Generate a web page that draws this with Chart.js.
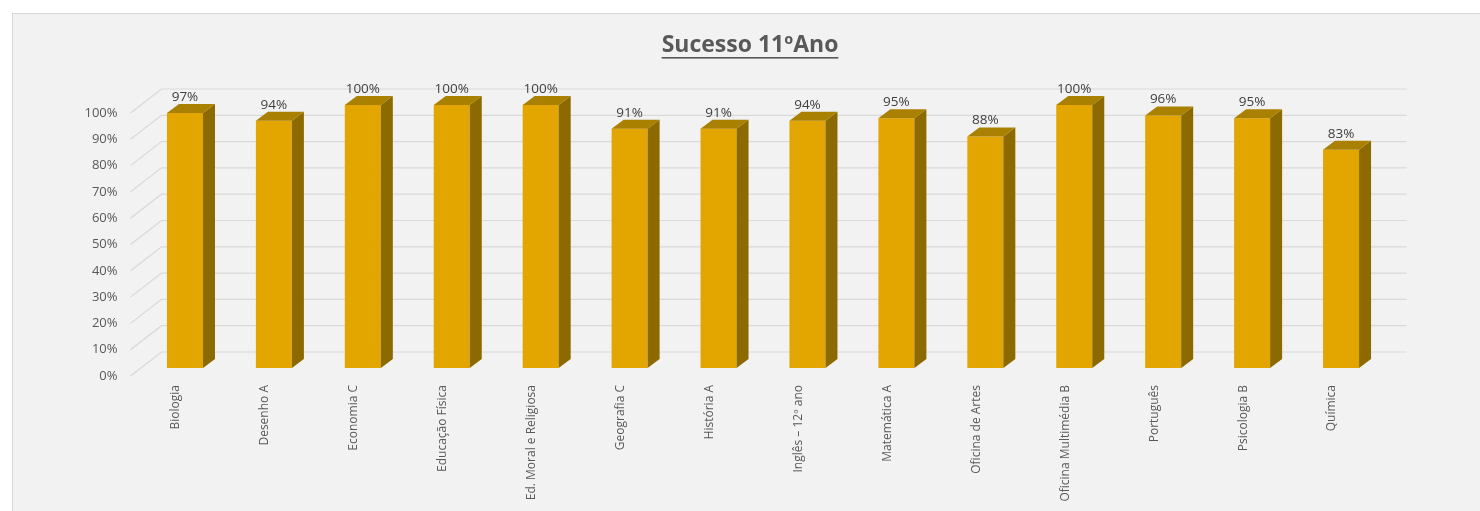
<!DOCTYPE html>
<html>
<head>
<meta charset="utf-8">
<script src="https://cdn.jsdelivr.net/npm/chart.js@4.4.1/dist/chart.umd.min.js"></script>
<style>
html,body{margin:0;padding:0;background:#fff;}
canvas{display:block;}
</style>
</head>
<body>
<canvas id="c" width="1480" height="511"></canvas>
<script>
const titleText = 'Sucesso 11ºAno';
const categories = ['Biologia','Desenho A','Economia C','Educação Física','Ed. Moral e Religiosa','Geografia C','História A','Inglês – 12º ano','Matemática A','Oficina de Artes','Oficina Multimédia B','Português','Psicologia B','Química'];
const values = [97,94,100,100,100,91,91,94,95,88,100,96,95,83];
const yMin = 0, yMax = 100, yStep = 10;

const FRONT = {dx:-10, dy:8};
const BACK = {dx:21, dy:-16};
const BAR_DEPTH = {dx:12, dy:-9};

const threeD = {
  id:'threeD',
  beforeDraw(chart){
    const ctx = chart.ctx;
    ctx.save();
    ctx.fillStyle = '#ffffff';
    ctx.fillRect(0,0,chart.width,chart.height);
    ctx.fillStyle = '#f2f2f2';
    ctx.fillRect(13,14,chart.width,chart.height);
    ctx.strokeStyle = '#d9d9d9';
    ctx.lineWidth = 1;
    ctx.strokeRect(12.5,13.5,chart.width+10,chart.height+10);
    // title
    ctx.font = 'bold 23px "Open Sans"';
    ctx.fillStyle = '#595959';
    ctx.textAlign = 'center';
    ctx.textBaseline = 'middle';
    const cx = chart.width/2 + 10;
    ctx.fillText(titleText, cx, 45);
    const w = ctx.measureText(titleText).width;
    ctx.fillRect(cx - w/2, 57, w, 1.6);
    ctx.restore();
  },
  beforeDatasetsDraw(chart){
    const ctx = chart.ctx, ys = chart.scales.y, area = chart.chartArea;
    ctx.save();
    ctx.strokeStyle = '#d9d9d9';
    ctx.lineWidth = 1.2;
    ys.ticks.forEach(t => {
      const y = ys.getPixelForValue(t.value);
      ctx.beginPath();
      ctx.moveTo(area.left + FRONT.dx, y + FRONT.dy);
      ctx.lineTo(area.left + BACK.dx, y + BACK.dy);
      ctx.lineTo(area.right + BACK.dx, y + BACK.dy);
      ctx.stroke();
    });
    ctx.restore();
  },
  afterDatasetsDraw(chart){
    const ctx = chart.ctx;
    const meta = chart.getDatasetMeta(0);
    ctx.save();
    meta.data.forEach((bar, i) => {
      const p = bar.getProps(['x','y','base','width'], true);
      const l = p.x - p.width/2, r = p.x + p.width/2, top = p.y, bot = p.base;
      ctx.fillStyle = '#8c6a00';
      ctx.beginPath();
      ctx.moveTo(r, top);
      ctx.lineTo(r + BAR_DEPTH.dx, top + BAR_DEPTH.dy);
      ctx.lineTo(r + BAR_DEPTH.dx, bot + BAR_DEPTH.dy);
      ctx.lineTo(r, bot);
      ctx.closePath();
      ctx.fill();
      ctx.fillStyle = '#a98000';
      ctx.beginPath();
      ctx.moveTo(l, top);
      ctx.lineTo(r, top);
      ctx.lineTo(r + BAR_DEPTH.dx, top + BAR_DEPTH.dy);
      ctx.lineTo(l + BAR_DEPTH.dx, top + BAR_DEPTH.dy);
      ctx.closePath();
      ctx.fill();
      ctx.fillStyle = '#404040';
      ctx.font = '13.5px "Open Sans"';
      ctx.textAlign = 'center';
      ctx.textBaseline = 'middle';
      ctx.fillText(values[i] + '%', p.x, top - 16);
    });
    ctx.restore();
  }
};

new Chart(document.getElementById('c'), {
  type:'bar',
  data:{
    labels: categories,
    datasets:[{
      data: values,
      backgroundColor:'#e3a600',
      borderWidth:0,
      categoryPercentage:1,
      barPercentage:0.405
    }]
  },
  options:{
    responsive:false,
    animation:false,
    events:[],
    layout:{padding:{left:0, right:94.5, top:105, bottom:0}},
    plugins:{legend:{display:false}, title:{display:false}, tooltip:{enabled:false}},
    scales:{
      x:{
        grid:{display:false, drawTicks:false},
        border:{display:false},
        ticks:{
          color:'#595959',
          font:{family:'Open Sans', size:12},
          maxRotation:90, minRotation:90,
          padding:17,
          labelOffset:-9,
          autoSkip:false
        },
        afterFit(s){ s.height = 143; }
      },
      y:{
        min:yMin, max:yMax,
        grid:{display:false, drawTicks:false},
        border:{display:false},
        ticks:{
          stepSize:yStep,
          color:'#595959',
          font:{family:'Open Sans', size:13},
          padding:23,
          labelOffset:8,
          callback:v => v + '%'
        },
        afterFit(s){ s.width = 140.5; }
      }
    }
  },
  plugins:[threeD]
});
</script>
</body>
</html>
